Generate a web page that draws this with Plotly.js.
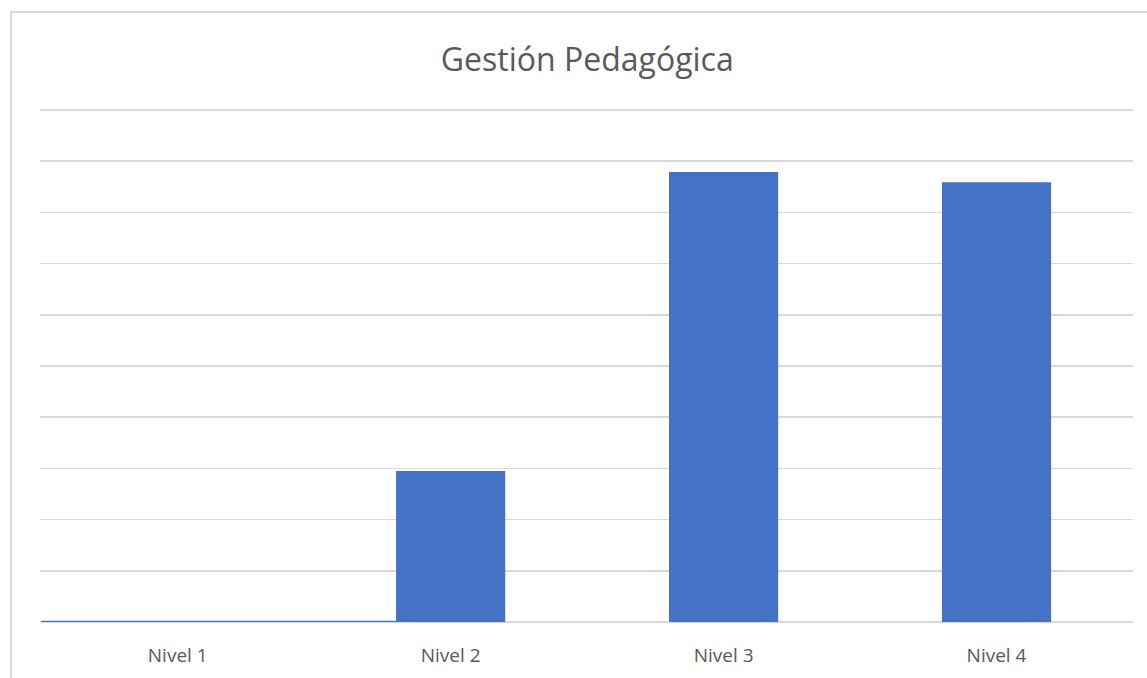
<!DOCTYPE html>
<html>
<head>
<meta charset="utf-8">
<script src="https://cdn.plot.ly/plotly-3.0.1.min.js"></script>
<style>
  html, body { margin: 0; padding: 0; background: #ffffff; }
  #wrap { position: relative; width: 1147px; height: 678px; overflow: hidden; }
  #chart { position: absolute; left: 0; top: 0; width: 1147px; height: 678px; }
  #frame { position: absolute; left: 10px; top: 11px; width: 1160px; height: 700px;
           border-left: 2px solid #D9D9D9; border-top: 2px solid #D9D9D9; pointer-events: none; }
</style>
</head>
<body>
<div id="wrap">
  <div id="chart"></div>
  <div id="frame"></div>
</div>
<script>
const categories = ["Nivel 1", "Nivel 2", "Nivel 3", "Nivel 4"];
const values = [0, 2.95, 8.79, 8.59];
const chartTitle = "Gestión Pedagógica";

const barColor = "#4472C4";
const barWidth = 0.4;

const trace = {
  type: "bar",
  x: categories,
  y: values,
  width: barWidth,
  marker: { color: barColor },
  hoverinfo: "x+y"
};

const layout = {
  width: 1147,
  height: 678,
  margin: { l: 40, r: 14, t: 108, b: 56 },
  paper_bgcolor: "#ffffff",
  plot_bgcolor: "#ffffff",
  showlegend: false,
  title: {
    text: chartTitle,
    font: { family: "Open Sans, sans-serif", size: 32, color: "#595959" },
    x: 0.512,
    xanchor: "center",
    y: 0.912,
    yanchor: "middle"
  },
  xaxis: {
    type: "category",
    showgrid: false,
    showline: false,
    zeroline: false,
    ticks: "",
    ticklabelstandoff: 20,
    tickfont: { family: "Open Sans, sans-serif", size: 19, color: "#595959" },
    fixedrange: true
  },
  yaxis: {
    range: [0, 10.04],
    dtick: 1,
    showticklabels: false,
    showgrid: true,
    gridcolor: "#D9D9D9",
    gridwidth: 1.5,
    zeroline: true,
    zerolinecolor: "#D9D9D9",
    zerolinewidth: 2,
    showline: false,
    ticks: "",
    fixedrange: true
  },
  shapes: [{
    type: "line",
    xref: "x",
    yref: "y",
    x0: -0.5,
    x1: 1 - barWidth / 2,
    y0: 0,
    y1: 0,
    line: { color: barColor, width: 2.5 },
    layer: "above"
  }]
};

Plotly.newPlot("chart", [trace], layout, { displayModeBar: false, staticPlot: true });
</script>
</body>
</html>
